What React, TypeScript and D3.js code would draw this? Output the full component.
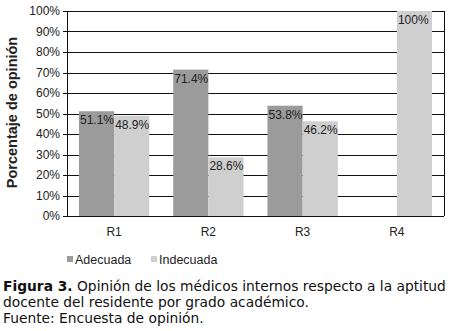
import * as d3 from 'd3';
import { useEffect, useRef } from 'react';

const categories = ['R1', 'R2', 'R3', 'R4'];
const seriesNames = ['Adecuada', 'Indecuada'];
const adecuada = [51.1, 71.4, 53.8, 0];
const indecuada = [48.9, 28.6, 46.2, 100];
const valueLabels = [
    ['51.1%', '71.4%', '53.8%', ''],
    ['48.9%', '28.6%', '46.2%', '100%'],
];
const yTicks = [0, 10, 20, 30, 40, 50, 60, 70, 80, 90, 100];
const colors = ['#9b9b9b', '#cfcfcf'];

export default function App() {
    const svgRef = useRef<SVGSVGElement | null>(null);

    useEffect(() => {
        if (!svgRef.current) return;
        const width = 451;
        const height = 331;
        const margin = { top: 11, right: 7, bottom: 115, left: 67 };
        const font = 'Liberation Sans, Arial, sans-serif';

        const svg = d3.select(svgRef.current)
            .attr('width', width)
            .attr('height', height);
        svg.selectAll('*').remove();

        svg.append('rect').attr('width', width).attr('height', height).attr('fill', '#fff');

        const x0 = d3.scaleBand()
            .domain(categories)
            .range([margin.left, width - margin.right])
            .paddingInner(0)
            .paddingOuter(0);
        const x1 = d3.scaleBand()
            .domain(seriesNames)
            .range([0, x0.bandwidth()])
            .paddingOuter(0.34);
        const y = d3.scaleLinear()
            .domain([0, 100])
            .range([height - margin.bottom, margin.top]);

        // lineas de la grilla
        svg.append('g')
            .selectAll('line')
            .data(yTicks)
            .join('line')
            .attr('x1', margin.left - 4)
            .attr('x2', width - margin.right)
            .attr('y1', d => Math.round(y(d)) + 0.5)
            .attr('y2', d => Math.round(y(d)) + 0.5)
            .attr('stroke', '#111')
            .attr('stroke-width', 1);

        // borde derecho
        svg.append('line')
            .attr('x1', width - margin.right + 0.5)
            .attr('x2', width - margin.right + 0.5)
            .attr('y1', margin.top)
            .attr('y2', height - margin.bottom)
            .attr('stroke', '#111');

        // etiquetas del eje y
        svg.append('g')
            .selectAll('text')
            .data(yTicks)
            .join('text')
            .attr('x', margin.left - 7)
            .attr('y', d => y(d))
            .attr('dy', '0.35em')
            .attr('text-anchor', 'end')
            .attr('font-family', font)
            .attr('font-size', 12)
            .attr('fill', '#222')
            .text(d => `${d}%`);

        const series = [adecuada, indecuada];
        series.forEach((vals, si) => {
            const g = svg.append('g');
            g.selectAll('rect')
                .data(vals)
                .join('rect')
                .attr('x', (_, i) => x0(categories[i])! + x1(seriesNames[si])!)
                .attr('y', d => y(d))
                .attr('width', x1.bandwidth())
                .attr('height', d => y(0) - y(d))
                .attr('fill', colors[si]);
            g.selectAll('text')
                .data(vals)
                .join('text')
                .attr('x', (_, i) => x0(categories[i])! + x1(seriesNames[si])! + 1)
                .attr('y', d => y(d) + 13)
                .attr('font-family', font)
                .attr('font-size', 12)
                .attr('fill', '#222')
                .text((_, i) => valueLabels[si][i]);
        });

        // eje izquierdo
        svg.append('line')
            .attr('x1', margin.left + 0.5)
            .attr('x2', margin.left + 0.5)
            .attr('y1', margin.top)
            .attr('y2', height - margin.bottom)
            .attr('stroke', '#111');

        // categorias
        svg.append('g')
            .selectAll('text')
            .data(categories)
            .join('text')
            .attr('x', d => x0(d)! + x0.bandwidth() / 2)
            .attr('y', height - margin.bottom + 20)
            .attr('text-anchor', 'middle')
            .attr('font-family', font)
            .attr('font-size', 12)
            .attr('fill', '#222')
            .text(d => d);

        // titulo eje y
        svg.append('text')
            .attr('transform', `translate(17,${(margin.top + height - margin.bottom) / 2 - 1}) rotate(-90)`)
            .attr('text-anchor', 'middle')
            .attr('font-family', font)
            .attr('font-size', 14.5)
            .attr('font-weight', 'bold')
            .attr('fill', '#222')
            .text('Porcentaje de opinión');

        // leyenda
        const legendX = [67, 151];
        seriesNames.forEach((name, i) => {
            svg.append('rect')
                .attr('x', legendX[i])
                .attr('y', 256)
                .attr('width', 6)
                .attr('height', 6)
                .attr('fill', colors[i]);
            svg.append('text')
                .attr('x', legendX[i] + 8)
                .attr('y', 263.5)
                .attr('font-family', font)
                .attr('font-size', 12.5)
                .attr('fill', '#222')
                .text(name);
        });

        // pie de figura
        const cap = svg.append('text')
            .attr('font-family', 'DejaVu Sans, Verdana, sans-serif')
            .attr('font-size', 13.8)
            .attr('fill', '#111');
        const l1 = cap.append('tspan').attr('x', 3).attr('y', 290.5);
        l1.append('tspan').attr('font-weight', 'bold').text('Figura 3.');
        l1.append('tspan').text(' Opinión de los médicos internos respecto a la aptitud');
        cap.append('tspan').attr('x', 3).attr('y', 306.5).text('docente del residente por grado académico.');
        cap.append('tspan').attr('x', 3).attr('y', 322.5).text('Fuente: Encuesta de opinión.');
    }, []);

    return <svg ref={svgRef} style={{ position: 'absolute', left: 0, top: 0 }} />;
}
